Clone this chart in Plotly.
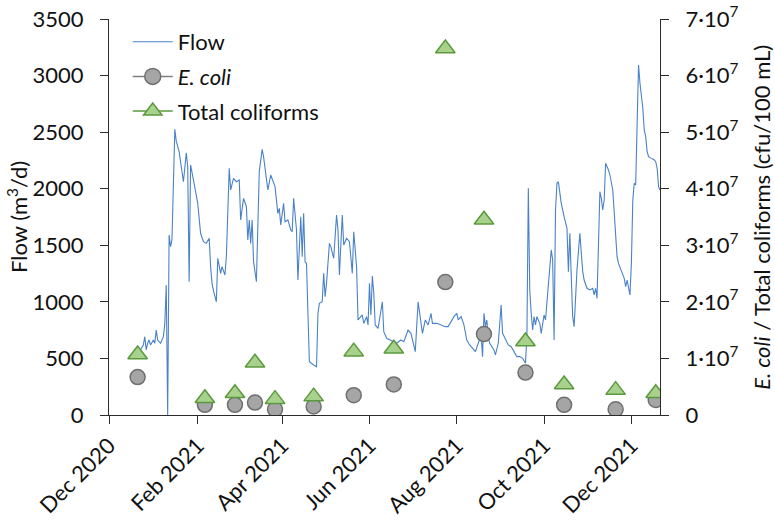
import plotly.graph_objects as go
from plotly.subplots import make_subplots

# ---------------- data ----------------
flow_dates = [
    "2020-12-19", "2020-12-21", "2020-12-23", "2020-12-25", "2020-12-26", "2020-12-27", "2020-12-28",
    "2020-12-29", "2020-12-30", "2021-01-01", "2021-01-02", "2021-01-03", "2021-01-04", "2021-01-05",
    "2021-01-06", "2021-01-08", "2021-01-09", "2021-01-10", "2021-01-11", "2021-01-12", "2021-01-13",
    "2021-01-14", "2021-01-15", "2021-01-16", "2021-01-17", "2021-01-19", "2021-01-21", "2021-01-22",
    "2021-01-24", "2021-01-25", "2021-01-26", "2021-01-27", "2021-01-29", "2021-01-31", "2021-02-01",
    "2021-02-03", "2021-02-05", "2021-02-07", "2021-02-09", "2021-02-10", "2021-02-11", "2021-02-12",
    "2021-02-14", "2021-02-15", "2021-02-17", "2021-02-18", "2021-02-20", "2021-02-21", "2021-02-23",
    "2021-02-24", "2021-02-26", "2021-02-28", "2021-03-02", "2021-03-03", "2021-03-05", "2021-03-07",
    "2021-03-08", "2021-03-09", "2021-03-10", "2021-03-11", "2021-03-12", "2021-03-14", "2021-03-16",
    "2021-03-18", "2021-03-19", "2021-03-22", "2021-03-24", "2021-03-27", "2021-03-28", "2021-03-29",
    "2021-03-30", "2021-03-31", "2021-04-02", "2021-04-03", "2021-04-05", "2021-04-07", "2021-04-08",
    "2021-04-09", "2021-04-11", "2021-04-12", "2021-04-14", "2021-04-15", "2021-04-16", "2021-04-17",
    "2021-04-18", "2021-04-20", "2021-04-23", "2021-04-25", "2021-04-26", "2021-04-27", "2021-04-29",
    "2021-04-30", "2021-05-01", "2021-05-02", "2021-05-04", "2021-05-05", "2021-05-07", "2021-05-09",
    "2021-05-10", "2021-05-11", "2021-05-13", "2021-05-14", "2021-05-16", "2021-05-18", "2021-05-20",
    "2021-05-21", "2021-05-23", "2021-05-24", "2021-05-27", "2021-05-28", "2021-05-30", "2021-05-31",
    "2021-06-01", "2021-06-02", "2021-06-03", "2021-06-04", "2021-06-05", "2021-06-07", "2021-06-10",
    "2021-06-11", "2021-06-13", "2021-06-15", "2021-06-18", "2021-06-20", "2021-06-23", "2021-06-25",
    "2021-06-26", "2021-06-27", "2021-06-28", "2021-06-30", "2021-07-01", "2021-07-03", "2021-07-05",
    "2021-07-07", "2021-07-08", "2021-07-10", "2021-07-12", "2021-07-14", "2021-07-15", "2021-07-18",
    "2021-07-21", "2021-07-24", "2021-07-26", "2021-07-28", "2021-07-30", "2021-08-01", "2021-08-02",
    "2021-08-04", "2021-08-06", "2021-08-08", "2021-08-10", "2021-08-13", "2021-08-14", "2021-08-16",
    "2021-08-18", "2021-08-19", "2021-08-20", "2021-08-21", "2021-08-22", "2021-08-23", "2021-08-24",
    "2021-08-27", "2021-08-28", "2021-08-30", "2021-09-01", "2021-09-02", "2021-09-04", "2021-09-06",
    "2021-09-08", "2021-09-10", "2021-09-12", "2021-09-14", "2021-09-16", "2021-09-18", "2021-09-19",
    "2021-09-20", "2021-09-21", "2021-09-22", "2021-09-23", "2021-09-24", "2021-09-25", "2021-09-26",
    "2021-09-28", "2021-09-29", "2021-09-30", "2021-10-01", "2021-10-02", "2021-10-04", "2021-10-05",
    "2021-10-06", "2021-10-07", "2021-10-08", "2021-10-09", "2021-10-10", "2021-10-11", "2021-10-13",
    "2021-10-15", "2021-10-17", "2021-10-18", "2021-10-19", "2021-10-20", "2021-10-21", "2021-10-22",
    "2021-10-23", "2021-10-24", "2021-10-26", "2021-10-27", "2021-10-28", "2021-10-29", "2021-10-31",
    "2021-11-02", "2021-11-04", "2021-11-05", "2021-11-06", "2021-11-07", "2021-11-08", "2021-11-09",
    "2021-11-10", "2021-11-11", "2021-11-12", "2021-11-13", "2021-11-15", "2021-11-16", "2021-11-18",
    "2021-11-20", "2021-11-21", "2021-11-22", "2021-11-24", "2021-11-26", "2021-11-27", "2021-11-28",
    "2021-11-30", "2021-12-01", "2021-12-02", "2021-12-03", "2021-12-04", "2021-12-05", "2021-12-06",
    "2021-12-07", "2021-12-09", "2021-12-10", "2021-12-11", "2021-12-12", "2021-12-13", "2021-12-15",
    "2021-12-17", "2021-12-18", "2021-12-19", "2021-12-20", "2021-12-21",
]
flow_values = [
    500, 540, 575, 619, 692, 575, 634,
    663, 619, 663, 634, 751, 663, 648,
    634, 692, 810, 1149, 0, 1591, 1488,
    1550, 2050, 2525, 2420, 2327, 2150, 2062,
    2318, 2195, 1178, 2210, 2077, 1930, 1871,
    1606, 1532, 1517, 1562, 1311, 1164, 1100,
    1001, 1385, 1252, 1311, 1237, 1399, 2180,
    1989, 2092, 2062, 2077, 1724, 1915, 1841,
    1547, 1724, 1517, 1724, 1355, 1178, 2151,
    2348, 2283, 1989, 2121, 2018, 1915, 1782,
    1827, 1679, 1871, 1708, 1724, 1635, 1620,
    1915, 1635, 1193, 1753, 1399, 1782, 1355,
    1340, 471, 442, 427, 899, 987, 1001,
    1252, 1046, 1164, 1517, 1488, 1385, 1768,
    1635, 1237, 1768, 1503, 1562, 1532, 1252,
    1620, 1311, 840, 884, 810, 869, 796,
    1164, 884, 1229, 1076, 796, 766, 1001,
    736, 678, 663, 648, 634, 663, 648,
    678, 707, 751, 722, 663, 560, 1001,
    810, 722, 840, 796, 899, 810, 810,
    796, 781, 781, 825, 869, 899, 840,
    869, 796, 663, 619, 575, 560, 634,
    707, 516, 899, 781, 840, 692, 634,
    575, 531, 634, 972, 722, 663, 619,
    604, 560, 516, 516, 501, 457, 692,
    2004, 1105, 899, 751, 869, 796, 869,
    810, 722, 796, 884, 840, 1193, 1311,
    1459, 1370, 663, 1812, 2048, 2062, 1871,
    1753, 1650, 1267, 1606, 1223, 869, 781,
    1105, 1282, 1606, 1385, 1267, 1193, 1120,
    1105, 1120, 1061, 1120, 1031, 1576, 1974,
    1915, 1812, 1900, 2225, 2166, 2121, 1989,
    1547, 1399, 1340, 1267, 1208, 1134, 1193,
    1061, 1340, 1900, 2048, 2033, 2490, 3094,
    2932, 2711, 2519, 2460, 2327, 2283, 2268,
    2254, 2239, 2180, 2018, 1989,
]

sample_dates = [
    "2020-12-21", "2021-02-06", "2021-02-27", "2021-03-13", "2021-03-27", "2021-04-23", "2021-05-21",
    "2021-06-18", "2021-07-24", "2021-08-20", "2021-09-18", "2021-10-15", "2021-11-20", "2021-12-18",
]
ecoli_values = [6.7e6, 1.8e6, 1.8e6, 2.2e6, 1.0e6, 1.5e6, 3.5e6,
                5.4e6, 2.35e7, 1.43e7, 7.5e6, 1.8e6, 1.0e6, 2.65e6]
tc_values = [1.07e7, 2.95e6, 3.85e6, 9.25e6, 2.8e6, 3.25e6, 1.12e7,
             1.17e7, 6.48e7, 3.45e7, 1.30e7, 5.4e6, 4.4e6, 3.85e6]

x_tick_vals = ["2020-12-01", "2021-02-01", "2021-04-01", "2021-06-01",
               "2021-08-01", "2021-10-01", "2021-12-01"]
x_tick_text = ["Dec 2020", "Feb 2021", "Apr 2021", "Jun 2021", "Aug 2021", "Oct 2021", "Dec 2021"]
y2_tick_vals = [0, 1e7, 2e7, 3e7, 4e7, 5e7, 6e7, 7e7]
y2_tick_text = ["0"] + [f"{i}·10<sup>7</sup>" for i in range(1, 8)]

# ---------------- styles ----------------
FONT = "Lato"
FS = 22
AXIS_COLOR = "#2b2b2b"
TEXT_COLOR = "#111111"
FLOW_COLOR = "#4A82C9"
EC_FILL, EC_LINE = "#A5A5A5", "#6f6f6f"
TC_FILL, TC_LINE = "#A9D18E", "#5B9A3C"

fig = make_subplots(specs=[[{"secondary_y": True}]])

fig.add_trace(go.Scatter(x=flow_dates, y=flow_values, mode="lines", name="Flow",
                         line=dict(color=FLOW_COLOR, width=1.1),
                         legendgroup="a", showlegend=True), secondary_y=False)

fig.add_trace(go.Scatter(x=sample_dates, y=ecoli_values, mode="markers", name="<i>E. coli</i>",
                         marker=dict(symbol="circle", size=15, color=EC_FILL,
                                     line=dict(color=EC_LINE, width=1.5)),
                         showlegend=False), secondary_y=True)

fig.add_trace(go.Scatter(x=sample_dates, y=tc_values, mode="markers", name="Total coliforms",
                         marker=dict(symbol="triangle-up", size=17, color=TC_FILL,
                                     line=dict(color=TC_LINE, width=1.5)),
                         showlegend=False), secondary_y=True)

# legend entries (line through marker, as in the reference legend)
fig.add_trace(go.Scatter(x=[None], y=[None], mode="lines+markers", name="<i>E. coli</i>",
                         line=dict(color="#7f7f7f", width=1.5),
                         marker=dict(symbol="circle", size=16, color=EC_FILL,
                                     line=dict(color=EC_LINE, width=1.5)),
                         legendgroup="b", showlegend=True), secondary_y=True)
fig.add_trace(go.Scatter(x=[None], y=[None], mode="lines+markers", name="Total coliforms",
                         line=dict(color=TC_LINE, width=1.5),
                         marker=dict(symbol="triangle-up", size=18, color=TC_FILL,
                                     line=dict(color=TC_LINE, width=1.5)),
                         legendgroup="c", showlegend=True), secondary_y=True)

common_axis = dict(showline=True, linecolor=AXIS_COLOR, linewidth=1.3, showgrid=False,
                   zeroline=False, ticks="outside", ticklen=8, tickwidth=1.3, automargin=False,
                   tickcolor=AXIS_COLOR, tickfont=dict(family=FONT, size=FS, color=TEXT_COLOR))

fig.update_xaxes(type="date", range=["2020-12-01", "2021-12-21"], domain=[0, 1],
                 tickvals=x_tick_vals, ticktext=x_tick_text, tickangle=-45,
                 **common_axis)
fig.update_yaxes(range=[0, 3500], dtick=500, ticklabelstandoff=12,
                 secondary_y=False, **common_axis)
fig.update_yaxes(range=[0, 7e7], tickvals=y2_tick_vals, ticktext=y2_tick_text,
                 ticklabelstandoff=12, secondary_y=True, **common_axis)

fig.update_layout(
    width=775, height=525, autosize=False,
    margin=dict(l=109, r=115, t=19, b=110, pad=0),
    paper_bgcolor="white", plot_bgcolor="white",
    font=dict(family=FONT, size=FS, color=TEXT_COLOR),
    legend=dict(x=0.034, y=0.995, xanchor="left", yanchor="top", bgcolor="rgba(0,0,0,0)",
                font=dict(family=FONT, size=FS, color=TEXT_COLOR), tracegroupgap=3,
                itemwidth=40),
    annotations=[
        dict(text="Flow (m<sup>3</sup>/d)", xref="paper", yref="paper", x=-0.167, y=0.5,
             textangle=-90, showarrow=False, xanchor="center", yanchor="middle",
             font=dict(family=FONT, size=FS, color=TEXT_COLOR)),
        dict(text="<i>E. coli</i> / Total coliforms (cfu/100 mL)", xref="paper", yref="paper",
             x=1.183, y=0.5, textangle=-90, showarrow=False, xanchor="center",
             yanchor="middle", font=dict(family=FONT, size=FS, color=TEXT_COLOR)),
    ],
)

fig.write_html("out.html")
